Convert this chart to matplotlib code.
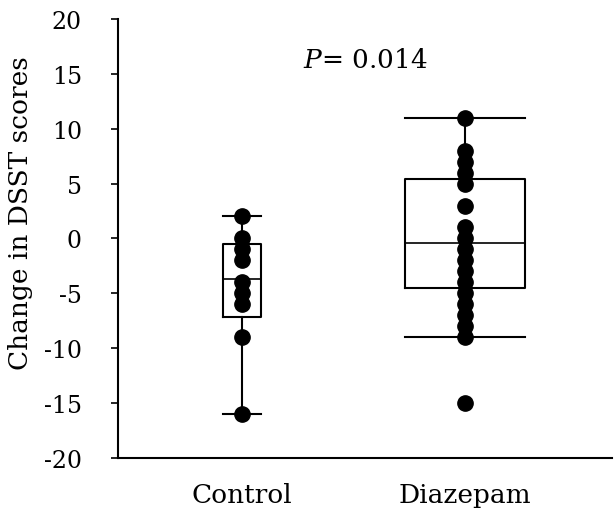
import matplotlib
matplotlib.use("Agg")
import matplotlib.pyplot as plt

groups = ["Control", "Diazepam"]
control_vals = [2, 0, -1, -2, -4, -5, -6, -9, -16]
diazepam_vals = [11, 8, 7, 6, 5, 3, 1, 0, -1, -2, -3, -4, -5, -6, -7, -8, -9, -15]

# box statistics
medians = [-3.7, -0.4]
q1s = [-7.2, -4.5]
q3s = [-0.5, 5.4]
whislo = [-16, -9]
whishi = [2, 11]
box_widths = [0.17, 0.54]

plt.rcParams['font.family'] = ['DejaVu Serif']
plt.rcParams['mathtext.fontset'] = 'dejavuserif'

fig = plt.figure(figsize=(6.15, 5.1), dpi=100)
ax = fig.add_axes([0.192, 0.1, 0.803, 0.861])

stats = []
for i in range(2):
    stats.append(dict(med=medians[i], q1=q1s[i], q3=q3s[i],
                      whislo=whislo[i], whishi=whishi[i], fliers=[], label=groups[i]))

ax.bxp(stats, positions=[1, 2], widths=box_widths, showfliers=False,
       boxprops=dict(color='black', linewidth=1.5),
       medianprops=dict(color='black', linewidth=1.2),
       whiskerprops=dict(color='black', linewidth=1.5),
       capprops=dict(color='black', linewidth=1.5),
       capwidths=box_widths, zorder=1)

ax.plot([1] * len(control_vals), control_vals, 'o', color='black', ms=11, zorder=3)
ax.plot([2] * len(diazepam_vals), diazepam_vals, 'o', color='black', ms=11, zorder=3)

ax.set_xlim(0.443, 2.66)
ax.set_ylim(-20, 20)
ax.set_yticks(range(-20, 21, 5))
ax.set_yticklabels([str(v) for v in range(-20, 21, 5)], fontsize=17)
ax.set_xticks([1, 2])
ax.set_xticklabels(groups, fontsize=19)
ax.tick_params(axis='x', length=0, pad=17)
ax.tick_params(axis='y', length=5, width=1.2, direction='out', pad=21)
ax.spines['top'].set_visible(False)
ax.spines['right'].set_visible(False)
ax.spines['left'].set_linewidth(1.5)
ax.spines['bottom'].set_linewidth(1.5)
ax.set_ylabel("Change in DSST scores", fontsize=19)
ax.yaxis.set_label_coords(-0.172, 0.56)

ax.text(1.551, 16.27, r"$P$" + "= 0.014", fontsize=19, ha='center', va='center')

fig.savefig("out.png", dpi=100)
